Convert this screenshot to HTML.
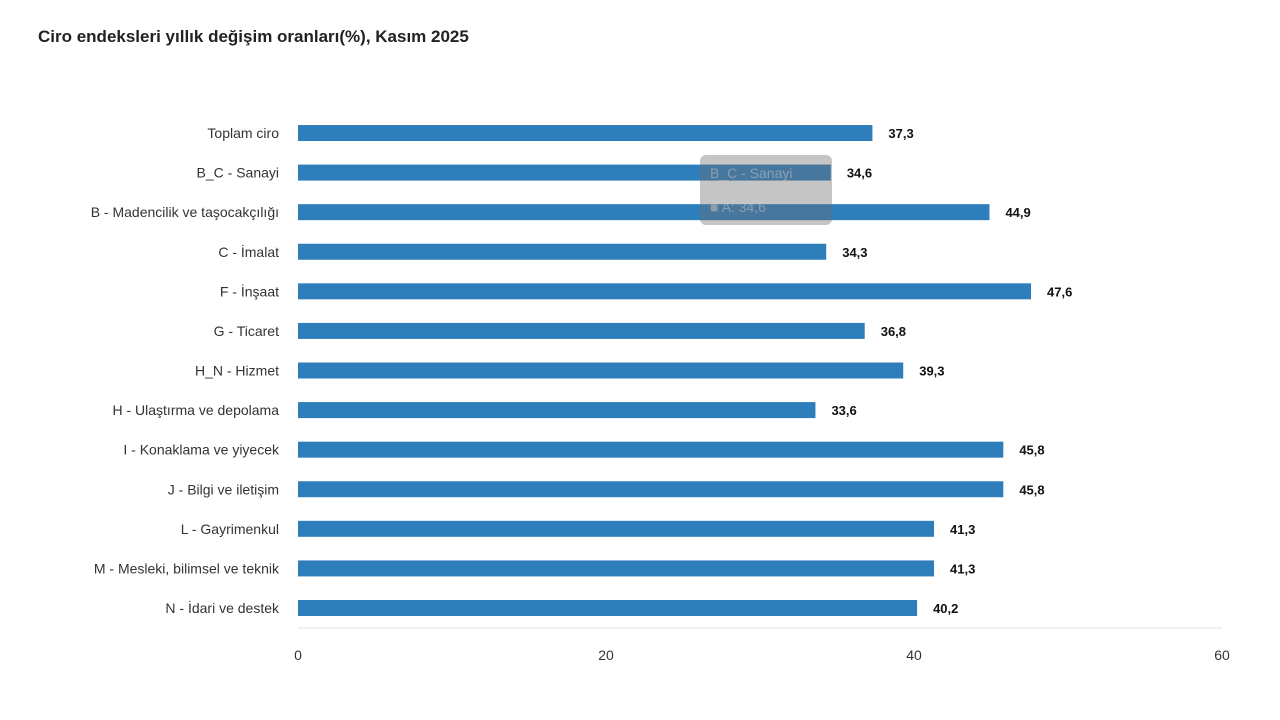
<!DOCTYPE html>
<html><head><meta charset="utf-8"><style>
body{margin:0;width:1280px;height:720px;background:#fff;overflow:hidden;font-family:"Liberation Sans",sans-serif;}
#title{position:absolute;left:38px;top:27px;font-size:17px;font-weight:bold;color:#222;}
</style></head><body>
<div id="title">Ciro endeksleri yıllık değişim oranları(%), Kasım 2025</div>
<svg id="chart" width="1280" height="720" style="position:absolute;left:0;top:0"></svg>
<script>
const categories=["Toplam ciro","B_C - Sanayi","B - Madencilik ve taşocakçılığı","C - İmalat","F - İnşaat","G - Ticaret","H_N - Hizmet","H - Ulaştırma ve depolama","I - Konaklama ve yiyecek","J - Bilgi ve iletişim","L - Gayrimenkul","M - Mesleki, bilimsel ve teknik","N - İdari ve destek"];
const values=[37.3,34.6,44.9,34.3,47.6,36.8,39.3,33.6,45.8,45.8,41.3,41.3,40.2];
const valueLabels=["37,3","34,6","44,9","34,3","47,6","36,8","39,3","33,6","45,8","45,8","41,3","41,3","40,2"];
const ticks=[0,20,40,60];
const NS="http://www.w3.org/2000/svg";
const svg=document.getElementById('chart');
const x=v=>298+v*(1222-298)/60;
const y=i=>133+i*(608-133)/12;
function mk(t,a){const e=document.createElementNS(NS,t);for(const k in a)e.setAttribute(k,a[k]);svg.appendChild(e);return e;}
const ax=mk('line',{x1:298,x2:1222,y1:628,y2:628,stroke:'#e6e6e6'});


ticks.forEach(t=>{const e=mk('text',{x:x(t),y:660,'text-anchor':'middle','font-size':14,fill:'#333'});e.textContent=t;

});
categories.forEach((c,i)=>{
const l=mk('text',{x:279,y:y(i)+5,'text-anchor':'end','font-size':14,fill:'#333'});l.textContent=c;


const r=mk('rect',{x:x(0),y:y(i)-8,width:x(values[i])-x(0),height:16,fill:'#2f7ebc'});


const v=mk('text',{x:x(values[i])+16,y:y(i)+5,'font-size':13,'font-weight':'bold',fill:'#111'});v.textContent=valueLabels[i];


});
const tip=mk('rect',{x:700,y:155,width:132,height:70,rx:6,fill:'rgba(110,110,110,0.4)'});


const tt=mk('text',{x:710,y:178,'font-size':14,fill:'rgba(200,200,200,0.5)'});tt.textContent="B_C - Sanayi";


const tv=mk('text',{x:710,y:212,'font-size':14,fill:'rgba(200,200,200,0.5)'});tv.textContent="■ A: 34,6";


</script>
</body></html>
